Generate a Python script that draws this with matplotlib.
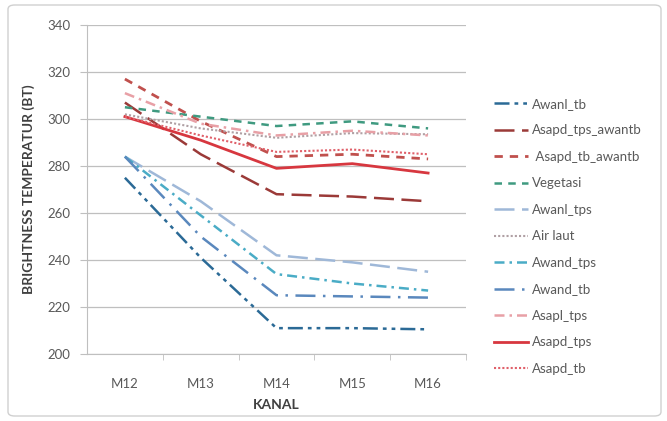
import matplotlib
matplotlib.use("Agg")
import matplotlib.pyplot as plt
from matplotlib.patches import FancyBboxPatch

plt.rcParams['font.family'] = ['Lato', 'DejaVu Sans']

categories = ["M12", "M13", "M14", "M15", "M16"]

awanl_tb = [275, 241, 211, 211, 210.5]
asapd_tps_awantb = [307, 285, 268, 267, 265]
asapd_tb_awantb = [317, 299, 284, 285, 283]
vegetasi = [305, 301, 297, 299, 296]
awanl_tps = [284, 265, 242, 239, 235]
air_laut = [302, 296, 292, 294, 293.5]
awand_tps = [284, 259, 234, 230, 227]
awand_tb = [284, 250, 225, 224.5, 224]
asapl_tps = [311, 298, 293, 295, 293]
asapd_tps = [301, 291, 279, 281, 277]
asapd_tb = [301, 293, 286, 287, 285]

y_ticks = [200, 220, 240, 260, 280, 300, 320, 340]

series = [
    ("Awanl_tb", awanl_tb, '#2b6a96', (0, (6, 2, 1.5, 2, 1.5, 2)), 1.8),
    ("Asapd_tps_awantb", asapd_tps_awantb, '#9b3a38', (0, (8, 3)), 1.8),
    (" Asapd_tb_awantb", asapd_tb_awantb, '#c0504d', (0, (3, 2.5)), 2.0),
    ("Vegetasi", vegetasi, '#3f9a80', (0, (3, 2.5)), 1.8),
    ("Awanl_tps", awanl_tps, '#9fb8d8', (0, (8, 3)), 1.8),
    ("Air laut", air_laut, '#b0a0a4', (0, (1, 1)), 1.5),
    ("Awand_tps", awand_tps, '#4aacc6', (0, (4, 2, 1, 2)), 1.8),
    ("Awand_tb", awand_tb, '#5a88bd', (0, (8, 3, 1, 3)), 1.8),
    ("Asapl_tps", asapl_tps, '#e8a0a6', (0, (4, 2, 1, 2)), 1.8),
    ("Asapd_tps", asapd_tps, '#d7373f', '-', 2.0),
    ("Asapd_tb", asapd_tb, '#e0606a', (0, (1, 1)), 1.5),
]

W, H = 667, 421
fig = plt.figure(figsize=(W / 100, H / 100), dpi=100)
fig.patch.set_facecolor('white')

# chart area border
border = FancyBboxPatch((8 / W, 5 / H), (W - 14) / W, (H - 10) / H,
                        boxstyle="round,pad=0,rounding_size=0.01",
                        transform=fig.transFigure, fill=False,
                        edgecolor='#d0d0d0', linewidth=1.0)
fig.patches.append(border)

ax = fig.add_axes([87 / W, 1 - 354 / H, (466 - 87) / W, (354 - 25) / H])
x = list(range(len(categories)))
handles = []
for name, vals, color, ls, lw in series:
    h, = ax.plot(x, vals, color=color, linestyle=ls, linewidth=lw, label=name)
    handles.append(h)

ax.set_xlim(-0.5, len(categories) - 0.5)
ax.set_ylim(200, 340)
ax.set_yticks(y_ticks)
ax.set_xticks(x)
ax.set_xticklabels(categories)
ax.set_xticks([i + 0.5 for i in range(len(categories))], minor=True)
ax.tick_params(axis='x', which='major', length=0, pad=17, labelsize=9.5, labelcolor='#595959')
ax.tick_params(axis='x', which='minor', length=4, color='#bfbfbf', direction='out')
ax.tick_params(axis='y', length=5, color='#bfbfbf', labelsize=9.5, labelcolor='#595959', pad=7)
ax.grid(axis='y', color='#bfbfbf', linewidth=0.9)
ax.set_axisbelow(True)
for s in ['top', 'right']:
    ax.spines[s].set_visible(False)
for s in ['left', 'bottom']:
    ax.spines[s].set_color('#bfbfbf')

ax.set_ylabel("BRIGHTNESS TEMPERATUR (BT)", fontsize=10, fontweight='bold', color='#404040', labelpad=9)
ax.set_xlabel("KANAL", fontsize=10, fontweight='bold', color='#404040', labelpad=7)

fig.legend(handles=handles, loc='upper left', bbox_to_anchor=(482 / W, 1 - 86 / H),
           frameon=False, fontsize=9.5, labelspacing=1.1, handlelength=2.6,
           handletextpad=0.3, labelcolor='#595959')

fig.savefig("out.png", dpi=100)
